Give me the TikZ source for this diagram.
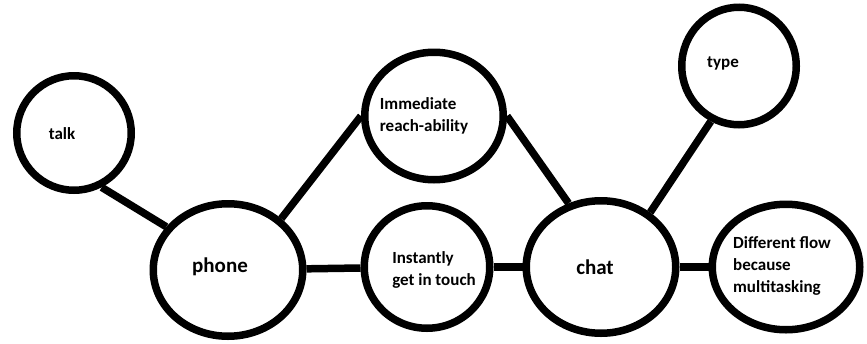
\documentclass[tikz,border=0pt]{standalone}
\usepackage{fontspec}
\setmainfont{Carlito}
\usetikzlibrary{shapes.geometric}

\tikzset{
  bubble/.style={shape=ellipse,draw=black,line width=7.5pt,inner sep=0pt},
  word/.style={font=\bfseries\fontsize{17}{22}\selectfont,align=left},
  bigword/.style={font=\bfseries\fontsize{21}{25}\selectfont},
  link/.style={line width=7.5pt}
}

\begin{document}
\begin{tikzpicture}[x=1pt,y=-1pt]
    \useasboundingbox (0,0) rectangle (867,343);
    \node[bubble,minimum width=114.5pt,minimum height=114.5pt,label={[word,xshift=-12pt,yshift=-1pt]center:talk}] (talk) at (74,133) {};
    \node[bubble,minimum width=149.5pt,minimum height=132.5pt,label={[bigword,xshift=-8pt,yshift=3pt]center:phone}] (phone) at (228,270) {};
    \node[bubble,minimum width=138.5pt,minimum height=127.5pt,label={[word,xshift=-10pt]center:Immediate\\reach-ability}] (reach) at (434,116) {};
    \node[bubble,minimum width=125.5pt,minimum height=122.5pt,label={[word,xshift=7pt,yshift=-3pt]center:Instantly\\get in touch}] (touch) at (427,267) {};
    \node[bubble,minimum width=114.5pt,minimum height=117.5pt,label={[word,xshift=-16pt,yshift=3pt]center:type}] (type) at (739,66) {};
    \node[bubble,minimum width=149.5pt,minimum height=132.5pt,label={[bigword,xshift=-6pt]center:chat}] (chat) at (601,267) {};
    \node[bubble,minimum width=147.5pt,minimum height=125.5pt,label={[word,xshift=-4pt,yshift=1pt]center:Different flow\\because\\multitasking}] (flow) at (786,267) {};

    \path [link] (talk.-63) edge (phone.145);
    \path [link] (phone.44) edge (reach.180);
    \path [link] (phone) edge (touch);
    \path [link] (touch) edge (chat);
    \path [link] (reach.0) edge (chat.117);
    \path [link] (chat.48) edge (type.-117);
    \path [link] (chat) edge (flow);
\end{tikzpicture}
\end{document}
